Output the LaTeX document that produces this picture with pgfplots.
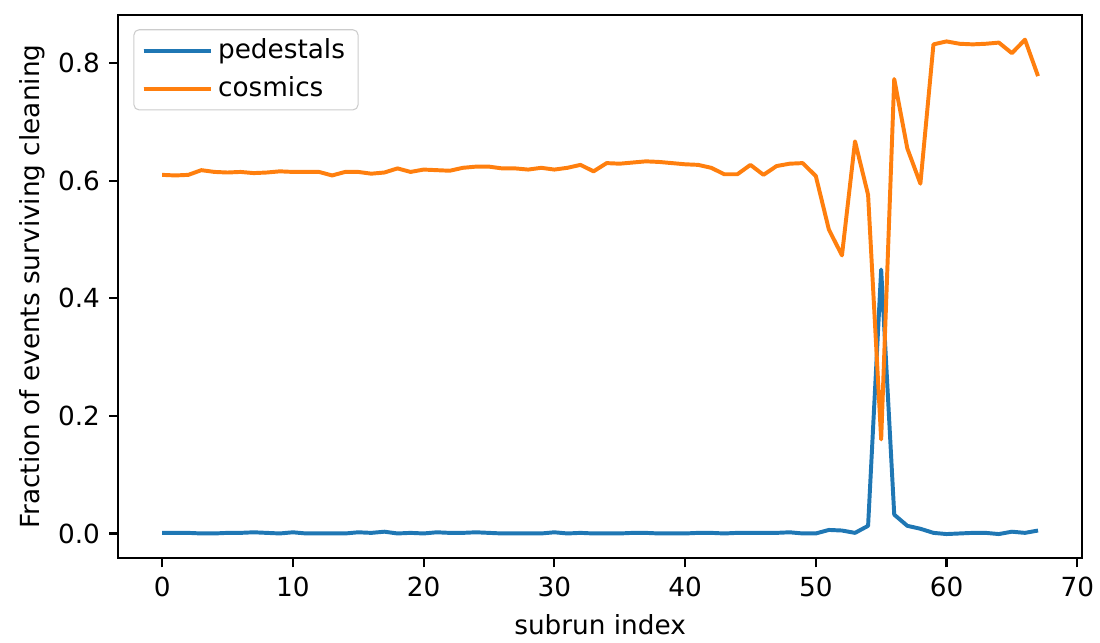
\documentclass[border=0pt]{standalone}
\usepackage{fontspec}
\setmainfont{DejaVu Sans}
\usepackage{pgfplots}
\pgfplotsset{compat=1.18}

\definecolor{mplblue}{HTML}{1F77B4}
\definecolor{mplorange}{HTML}{FF7F0E}

\begin{document}
\begin{tikzpicture}
  \useasboundingbox (0,0) rectangle (418.2pt,244.1pt);
  \begin{axis}[%
    at={(45pt,31.9pt)}, anchor=south west,
    scale only axis,
    width=366.3pt,
    height=206.4pt,
    font=\fontsize{10pt}{12pt}\selectfont,
    /pgf/number format/assume math mode=true,
    axis line style={line width=0.8pt},
    tick align=outside,
    tick style={line width=0.8pt, black},
    major tick length=3.5pt,
    xtick pos=lower, ytick pos=left,
    % x-axis
    xmin=-3.35, xmax=70.35,
    xtick={0,10,...,70},
    xlabel={subrun index},
    xlabel style={yshift=0pt},
    % y-axis
    ymin=-0.042, ymax=0.8815,
    ytick={0,0.2,0.4,0.6,0.8},
    yticklabel style={/pgf/number format/fixed, /pgf/number format/precision=1, /pgf/number format/fixed zerofill},
    scaled y ticks=false,
    ylabel={Fraction of events surviving cleaning},
    ylabel style={yshift=-2pt},
    % legend
    legend style={at={(axis description cs:0,1)}, anchor=north west,
      xshift=5.7pt, yshift=-5.3pt, draw=black!20, rounded corners=2pt,
      fill=white, inner xsep=3pt, inner ysep=1.5pt, row sep=1.3pt,
      font=\fontsize{10pt}{12pt}\selectfont},
    legend cell align=left,
    legend image code/.code={\draw[#1] (0pt,0pt) -- (21.5pt,0pt); \path (0pt,0pt) -- (25.5pt,0pt);},
    ]

    \addplot[color=mplblue, line width=1.5pt, line join=round] coordinates {
      (0,0.001) (1,0.001) (2,0.001) (3,0.000) (4,0.000) (5,0.001) (6,0.001)
      (7,0.002) (8,0.001) (9,0.000) (10,0.002) (11,0.000) (12,0.000) (13,0.000)
      (14,0.000) (15,0.002) (16,0.001) (17,0.003) (18,0.000) (19,0.001) (20,0.000)
      (21,0.002) (22,0.001) (23,0.001) (24,0.002) (25,0.001) (26,0.000) (27,0.000)
      (28,0.000) (29,0.000) (30,0.002) (31,0.000) (32,0.001) (33,0.000) (34,0.000)
      (35,0.000) (36,0.001) (37,0.001) (38,0.000) (39,0.000) (40,0.000) (41,0.001)
      (42,0.001) (43,0.000) (44,0.001) (45,0.001) (46,0.001) (47,0.001) (48,0.002)
      (49,0.000) (50,0.000) (51,0.006) (52,0.005) (53,0.001) (54,0.013) (55,0.449)
      (56,0.032) (57,0.013) (58,0.008) (59,0.001) (60,-0.001) (61,0.000) (62,0.001)
      (63,0.001) (64,-0.001) (65,0.003) (66,0.001) (67,0.005)
    };
    \addlegendentry{pedestals}

    \addplot[color=mplorange, line width=1.5pt, line join=round] coordinates {
      (0,0.610) (1,0.609) (2,0.610) (3,0.618) (4,0.615) (5,0.614) (6,0.615)
      (7,0.613) (8,0.614) (9,0.616) (10,0.615) (11,0.615) (12,0.615) (13,0.609)
      (14,0.615) (15,0.615) (16,0.612) (17,0.614) (18,0.621) (19,0.615) (20,0.619)
      (21,0.618) (22,0.617) (23,0.622) (24,0.624) (25,0.624) (26,0.621) (27,0.621)
      (28,0.619) (29,0.622) (30,0.619) (31,0.622) (32,0.627) (33,0.616) (34,0.630)
      (35,0.629) (36,0.631) (37,0.633) (38,0.632) (39,0.630) (40,0.628) (41,0.627)
      (42,0.622) (43,0.611) (44,0.611) (45,0.627) (46,0.610) (47,0.625) (48,0.629)
      (49,0.630) (50,0.608) (51,0.517) (52,0.473) (53,0.667) (54,0.576) (55,0.160)
      (56,0.773) (57,0.655) (58,0.595) (59,0.832) (60,0.837) (61,0.833) (62,0.832)
      (63,0.833) (64,0.835) (65,0.817) (66,0.840) (67,0.778)
    };
    \addlegendentry{cosmics}
  \end{axis}
\end{tikzpicture}
\end{document}
